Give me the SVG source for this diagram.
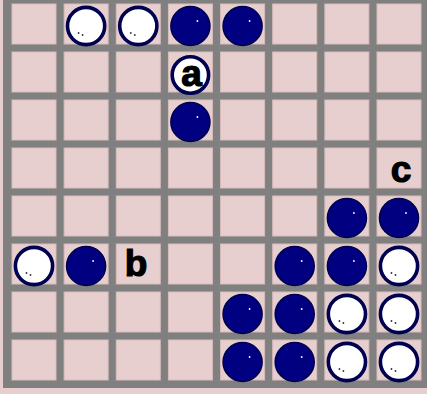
<svg xmlns="http://www.w3.org/2000/svg" xmlns:xlink="http://www.w3.org/1999/xlink" width="427" height="394" viewBox="0 0 427 394">
<style>
.cell{fill:#e7cfcf;stroke:#d9bcbc;stroke-width:1}
.blue{fill:#000080;stroke:#00004a;stroke-width:1.6}
.white{fill:#ffffff;stroke:#000050;stroke-width:3.6}
.hl{fill:#ffffff}
.dot{fill:#303040}
.lbl{font-family:"Liberation Sans",Arial,sans-serif;font-weight:bold;font-size:37px;fill:#000000;stroke:#000000;stroke-width:1.2;text-anchor:middle}
</style>
<defs>
<g id="B"><circle class="blue" cx="0" cy="0" r="19.5"/><circle class="hl" cx="7" cy="-5" r="0.9"/></g>
<g id="W"><circle class="white" cx="0" cy="0" r="18.6"/><circle class="dot" cx="-7.5" cy="7" r="0.9"/><circle class="dot" cx="-3.5" cy="9" r="0.9"/></g>
<g id="row"><rect class="cell" x="12" y="0" width="44" height="40"/><rect class="cell" x="64.14" y="0" width="44" height="40"/><rect class="cell" x="116.29" y="0" width="44" height="40"/><rect class="cell" x="168.43" y="0" width="44" height="40"/><rect class="cell" x="220.57" y="0" width="44" height="40"/><rect class="cell" x="272.71" y="0" width="44" height="40"/><rect class="cell" x="324.86" y="0" width="44" height="40"/><rect class="cell" x="377" y="0" width="44" height="40"/></g>
</defs>
<rect x="0" y="0" width="427" height="394" fill="#e7cfcf"/>
<g id="board">
<rect x="3" y="0" width="424" height="388" fill="#808080"/>
<use xlink:href="#row" y="4"/>
<use xlink:href="#row" y="52"/>
<use xlink:href="#row" y="100"/>
<use xlink:href="#row" y="148"/>
<use xlink:href="#row" y="196"/>
<use xlink:href="#row" y="244"/>
<use xlink:href="#row" y="292"/>
<use xlink:href="#row" y="340"/>
</g>
<g id="connectors"></g>
<g id="w-r0c1"><use xlink:href="#W" x="86.1" y="26"/></g>
<g id="w-r0c2"><use xlink:href="#W" x="138.3" y="26"/></g>
<g id="b-r0c3"><use xlink:href="#B" x="190.4" y="26"/></g>
<g id="b-r0c4"><use xlink:href="#B" x="242.6" y="26"/></g>
<g id="marker-a"><circle class="white" cx="190.4" cy="75" r="18.2"/><text class="lbl" x="191.5" y="86">a</text></g>
<g id="b-r2c3"><use xlink:href="#B" x="190.4" y="122"/></g>
<g id="label-c"><text class="lbl" x="401" y="182">c</text></g>
<g id="b-r4c6"><use xlink:href="#B" x="346.9" y="218"/></g>
<g id="b-r4c7"><use xlink:href="#B" x="399" y="218"/></g>
<g id="w-r5c0"><use xlink:href="#W" x="34" y="266"/></g>
<g id="b-r5c1"><use xlink:href="#B" x="86.1" y="266"/></g>
<g id="label-b"><text class="lbl" x="136" y="276">b</text></g>
<g id="b-r5c5"><use xlink:href="#B" x="294.7" y="266"/></g>
<g id="b-r5c6"><use xlink:href="#B" x="346.9" y="266"/></g>
<g id="w-r5c7"><use xlink:href="#W" x="399" y="266"/></g>
<g id="b-r6c4"><use xlink:href="#B" x="242.6" y="314"/></g>
<g id="b-r6c5"><use xlink:href="#B" x="294.7" y="314"/></g>
<g id="w-r6c6"><use xlink:href="#W" x="346.9" y="314"/></g>
<g id="w-r6c7"><use xlink:href="#W" x="399" y="314"/></g>
<g id="b-r7c4"><use xlink:href="#B" x="242.6" y="362"/></g>
<g id="b-r7c5"><use xlink:href="#B" x="294.7" y="362"/></g>
<g id="w-r7c6"><use xlink:href="#W" x="346.9" y="362"/></g>
<g id="w-r7c7"><use xlink:href="#W" x="399" y="362"/></g>
</svg>
